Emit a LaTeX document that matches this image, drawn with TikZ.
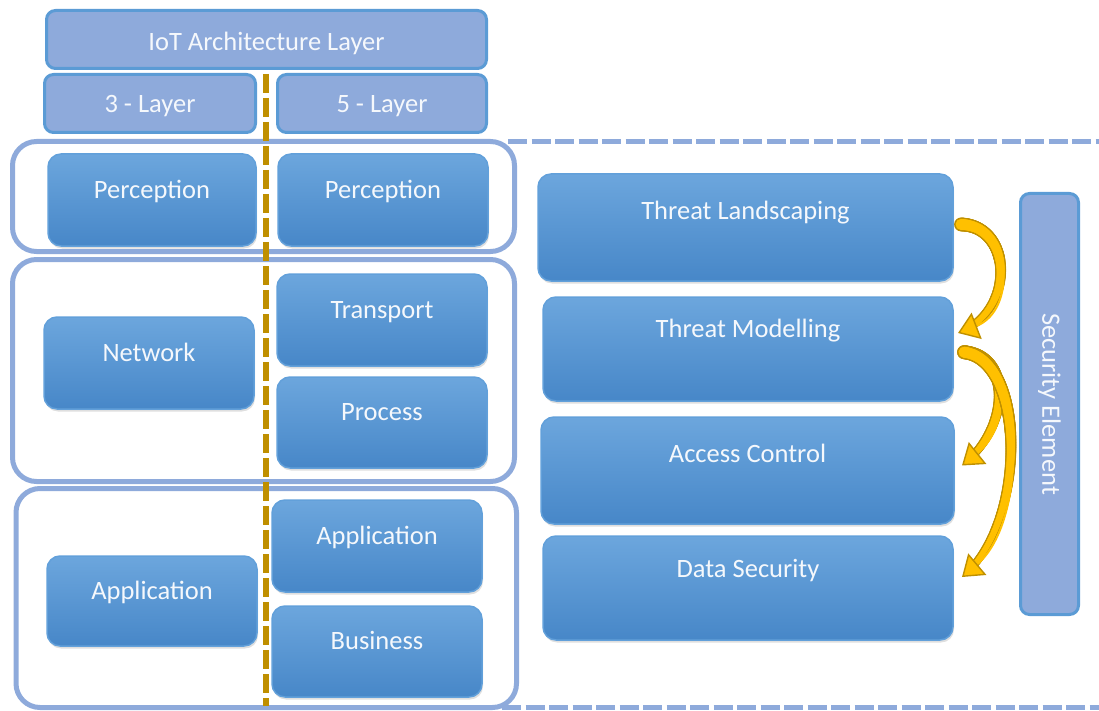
\documentclass[tikz,border=0pt]{standalone}
\usepackage{fontspec}
\setmainfont{Carlito}
\usetikzlibrary{arrows.meta,shadows,decorations.markings}
\definecolor{hdrfill}{HTML}{8EAADB}
\definecolor{hdrline}{HTML}{5B9BD5}
\definecolor{boxtop}{HTML}{6CA6DD}
\definecolor{boxbot}{HTML}{4787C8}
\definecolor{boxline}{HTML}{62A0DA}
\definecolor{grpline}{HTML}{8EAADB}
\definecolor{gold}{HTML}{FFC000}
\definecolor{golddark}{HTML}{BF9000}
\definecolor{divider}{HTML}{BF8F00}
\definecolor{txt}{HTML}{F5F8FC}
\begin{document}
\begin{tikzpicture}[x=1pt,y=-1pt,
  every node/.style={font=\fontsize{26.5}{30}\selectfont, text=txt,
    inner xsep=0pt, inner ysep=0pt, outer sep=0pt, anchor=north west},
  hdrbox/.style={draw=hdrline, line width=3pt, fill=hdrfill, rounded corners=9pt},
  bluebox/.style={draw=boxline, line width=1.5pt, top color=boxtop, bottom color=boxbot,
    rounded corners=13pt,
    drop shadow={shadow xshift=1pt, shadow yshift=-2.5pt, opacity=0.25}},
  groupbox/.style={draw=grpline, line width=5pt, rounded corners=24pt},
  dividerline/.style={draw=divider, line width=6pt, dash pattern=on 19pt off 5pt},
  edgeline/.style={draw=grpline, line width=5pt, dash pattern=on 19pt off 4.5pt},
  % tapered shaft: discs whose radius shrinks from #1 to #2 along the path
  taper/.style n args={3}{decoration={markings,
    mark=between positions 4pt and -12pt step 0.7pt with {%
      \pgfmathsetmacro\taperr{#1-(#1-#2)*(\pgfkeysvalueof{/pgf/decoration/mark info/distance from start})/(\pgfdecoratedpathlength)}%
      \fill[#3] (0pt,0pt) circle[radius=\taperr pt];}}, decorate},
  goldarrow/.style={draw=gold, line width=2pt,
    -{Triangle[width=28pt,length=20pt,fill=gold,color=golddark,line width=1.4pt]},
    preaction={taper={7}{3.7}{golddark}},
    preaction={taper={5.6}{2.3}{gold}}}]
\useasboundingbox (0,0) rectangle (1099,711);

% header row
\node[hdrbox, minimum width=440pt, text height=40.5pt, text depth=17.5pt] (hdr) at (46.5,10.5) {IoT Architecture Layer};
\node[hdrbox, minimum width=211pt, text height=38.5pt, text depth=19.5pt] (l3) at (44.5,74.5) {3 - Layer};
\node[hdrbox, minimum width=209pt, text height=38.5pt, text depth=19.5pt] (l5) at (277.5,74.5) {5 - Layer};

% layer groups
\node[groupbox, minimum width=502pt, minimum height=110pt] (g1) at (12.5,141.5) {};
\node[groupbox, minimum width=502pt, minimum height=222pt] (g2) at (12.5,259.5) {};
\node[groupbox, minimum width=500.5pt, minimum height=219pt] (g3) at (16,488.5) {};

% divider between the two models
\coordinate (dtop) at (266,74);
\coordinate (dbot) at (266,706);
\draw[dividerline] (dtop) -- (dbot);

% dashed edges of the security region
\coordinate (topA) at (508,141.5);
\coordinate (topB) at (1099,141.5);
\coordinate (botA) at (502,707.5);
\coordinate (botB) at (1099,707.5);
\draw[edgeline] (topA) -- (topB);
\draw[edgeline] (botA) -- (botB);

% 3-layer model
\node[bluebox, minimum width=208pt, text height=45pt, text depth=47pt] (pl) at (48,154) {Perception};
\node[bluebox, minimum width=210pt, text height=44pt, text depth=48pt] (nw) at (44,317) {Network};
\node[bluebox, minimum width=210pt, text height=43pt, text depth=47pt] (apl) at (47,556) {Application};

% 5-layer model
\node[bluebox, minimum width=210pt, text height=45pt, text depth=47pt] (pr) at (278,154) {Perception};
\node[bluebox, minimum width=210pt, text height=44pt, text depth=48pt] (tr) at (277,274) {Transport};
\node[bluebox, minimum width=210pt, text height=43pt, text depth=48pt] (pc) at (277,377) {Process};
\node[bluebox, minimum width=210pt, text height=44pt, text depth=48pt] (apr) at (272,500) {Application};
\node[bluebox, minimum width=210pt, text height=43pt, text depth=48pt] (bs) at (272,606) {Business};

% security elements
\node[bluebox, minimum width=415pt, text height=45pt, text depth=62pt] (tl) at (538,174) {Threat Landscaping};
\node[bluebox, minimum width=410pt, text height=40pt, text depth=64pt] (tm) at (543,297) {Threat Modelling};
\node[bluebox, minimum width=413pt, text height=45pt, text depth=62pt] (ac) at (541,417) {Access Control};
\node[bluebox, minimum width=410pt, text height=41pt, text depth=63pt] (ds) at (543,536) {Data Security};

\node[hdrbox, rotate=-90, anchor=center, minimum width=421pt, minimum height=58pt] (se) at (1049.5,404) {Security Element};

% flow between the security elements
\draw[goldarrow] ([shift={(4,-3)}]tl.east) .. controls +(55,-3) and +(60,-23) .. ([shift={(5,-16)}]tm.east);
\draw[goldarrow] ([shift={(7,3)}]tm.east) .. controls +(52,0) and +(50,-40) .. ([shift={(8,-5)}]ac.east);
\draw[goldarrow] ([shift={(7,3)}]tm.east) .. controls +(65,0) and +(68,-57) .. ([shift={(9,-11)}]ds.east);
\end{tikzpicture}
\end{document}
